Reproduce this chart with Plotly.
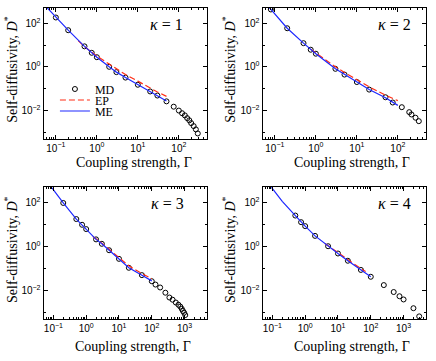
import math
import plotly.graph_objects as go

# ---- data ----
# kappa = 1
g_md_1 = [0.1, 0.2, 0.5, 0.75, 1, 2, 3, 5, 10, 20, 30, 50, 75, 100, 120, 140, 160, 180, 200, 230, 260, 290]
d_md_1 = [184, 48, 8.7, 4.4, 2.76, 1.0, 0.57, 0.32, 0.15, 0.074, 0.048, 0.026, 0.0148, 0.0098, 0.0074,
          0.0059, 0.0044, 0.0035, 0.0026, 0.0019, 0.00134, 0.00087]
g_ep_1 = [0.35, 0.5, 0.75, 1, 2, 3, 5, 10, 20, 30, 50]
d_ep_1 = [16, 8.5, 4.7, 3.1, 1.35, 0.82, 0.44, 0.22, 0.105, 0.07, 0.044]
g_me_1 = [0.055, 0.1, 0.2, 0.5, 0.75, 1, 2, 3, 5, 10, 20, 30, 50]
d_me_1 = [640, 184, 48, 8.7, 4.4, 2.76, 1.0, 0.57, 0.32, 0.15, 0.074, 0.048, 0.027]

# kappa = 2
g_md_2 = [0.08, 0.2, 0.5, 0.75, 1, 3, 5, 10, 20, 50, 75, 125, 190, 215, 270, 325]
d_md_2 = [430, 59, 12.2, 6.1, 4.0, 0.81, 0.44, 0.2, 0.09, 0.04, 0.023, 0.014, 0.0083, 0.0065, 0.0046, 0.0032]
g_ep_2 = [0.75, 1, 2, 3, 5, 10, 20, 50, 100]
d_ep_2 = [6.4, 4.3, 1.75, 1.0, 0.55, 0.26, 0.12, 0.05, 0.028]
g_me_2 = [0.07, 0.08, 0.2, 0.5, 0.75, 1, 3, 5, 10, 20, 50, 75, 100]
d_me_2 = [580, 430, 59, 12.2, 6.1, 4.0, 0.81, 0.44, 0.2, 0.09, 0.038, 0.024, 0.017]

# kappa = 3
g_md_3 = [0.2, 0.5, 0.75, 1, 2, 3, 5, 10, 20, 50, 100, 130, 180, 260, 345, 430, 540, 650, 740, 820,
          890, 970, 1050]
d_md_3 = [97, 18, 9.9, 6.3, 2.15, 1.35, 0.69, 0.28, 0.11, 0.051, 0.027, 0.019, 0.014, 0.0081, 0.0049,
          0.0039, 0.0029, 0.0023, 0.0019, 0.0015, 0.0012, 0.001, 0.00078]
g_ep_3 = [1.6, 2, 3, 5, 10, 20, 50, 100]
d_ep_3 = [2.9, 2.3, 1.45, 0.76, 0.31, 0.135, 0.06, 0.035]
g_me_3 = [0.08, 0.2, 0.5, 0.75, 1, 2, 3, 5, 10, 20, 50, 100]
d_me_3 = [600, 97, 18, 9.9, 6.3, 2.15, 1.35, 0.69, 0.28, 0.11, 0.05, 0.028]

# kappa = 4
g_md_4 = [0.5, 0.75, 1, 2, 5, 10, 20, 50, 100, 250, 500, 750, 1000, 2000, 3000]
d_md_4 = [26, 13, 8.6, 3.1, 1.05, 0.49, 0.23, 0.088, 0.043, 0.018, 0.0087, 0.0056, 0.0040, 0.0016, 0.00068]
g_ep_4 = [4, 5, 10, 20, 50, 70]
d_ep_4 = [1.4, 1.1, 0.52, 0.245, 0.1, 0.075]
g_me_4 = [0.085, 0.2, 0.5, 0.75, 1, 2, 5, 10, 20, 50, 100]
d_me_4 = [600, 115, 26, 13, 8.6, 3.1, 1.05, 0.49, 0.23, 0.088, 0.043]

kappa_labels = ["<i>κ</i> = 1", "<i>κ</i> = 2", "<i>κ</i> = 3", "<i>κ</i> = 4"]

x_tickvals_top = [0.1, 1, 10, 100]
x_ticktext_top = ["10<sup>−1</sup>", "10<sup>0</sup>", "10<sup>1</sup>", "10<sup>2</sup>"]
x_tickvals_bot = [0.1, 1, 10, 100, 1000]
x_ticktext_bot = ["10<sup>−1</sup>", "10<sup>0</sup>", "10<sup>1</sup>", "10<sup>2</sup>", "10<sup>3</sup>"]
y_tickvals = [0.01, 1, 100]
y_ticktext = ["10<sup>−2</sup>", "10<sup>0</sup>", "10<sup>2</sup>"]

x_title = "Coupling strength, Γ"
y_title = "Self-diffusivity, <i>D</i><sup>*</sup>"

SERIF = "Liberation Serif"
SANS = "Liberation Sans"

panels = [
    (g_md_1, d_md_1, g_ep_1, d_ep_1, g_me_1, d_me_1),
    (g_md_2, d_md_2, g_ep_2, d_ep_2, g_me_2, d_me_2),
    (g_md_3, d_md_3, g_ep_3, d_ep_3, g_me_3, d_me_3),
    (g_md_4, d_md_4, g_ep_4, d_ep_4, g_me_4, d_me_4),
]

x_domains = [[0.0998, 0.4759], [0.6021, 0.9782], [0.0998, 0.4759], [0.6021, 0.9782]]
y_domains = [[0.6158, 0.9778], [0.6158, 0.9778], [0.1155, 0.4812], [0.1155, 0.4812]]

fig = go.Figure()

for i, (gmd, dmd, gep, dep, gme, dme) in enumerate(panels):
    n = "" if i == 0 else str(i + 1)
    # each legend entry gets its own legend box so the rows can sit close together
    fig.add_trace(
        go.Scatter(
            x=gmd, y=dmd, mode="markers", name="MD", legend="legend",
            marker=dict(symbol="circle-open", size=5, color="black", line=dict(width=1, color="black")),
            xaxis="x" + n, yaxis="y" + n, showlegend=(i == 0),
        )
    )
    fig.add_trace(
        go.Scatter(
            x=gep, y=dep, mode="lines", name="EP", legend="legend2",
            line=dict(color="rgb(255,45,20)", width=1.2, dash="6px,3px"),
            xaxis="x" + n, yaxis="y" + n, showlegend=(i == 0),
        )
    )
    fig.add_trace(
        go.Scatter(
            x=gme, y=dme, mode="lines", name="ME", legend="legend3",
            line=dict(color="rgb(30,40,255)", width=1.2),
            xaxis="x" + n, yaxis="y" + n, showlegend=(i == 0),
        )
    )

    top = i < 2
    xaxis = dict(
        type="log",
        domain=x_domains[i],
        anchor="y" + n,
        range=[math.log10(0.05), math.log10(500)] if top else [math.log10(0.05), math.log10(5000)],
        tickmode="array",
        tickvals=x_tickvals_top if top else x_tickvals_bot,
        ticktext=x_ticktext_top if top else x_ticktext_bot,
        ticks="inside", ticklen=4, tickcolor="black",
        minor=dict(ticks="inside", ticklen=2, dtick="D1", tickcolor="black"),
        showline=True, linecolor="black", linewidth=1, mirror="allticks",
        showgrid=False, zeroline=False,
        tickfont=dict(family=SANS, size=10, color="black"),
    )
    yaxis = dict(
        type="log",
        domain=y_domains[i],
        anchor="x" + n,
        range=[-3.3, 2.7],
        tickmode="array",
        tickvals=y_tickvals,
        ticktext=y_ticktext,
        ticks="inside", ticklen=4, tickcolor="black",
        minor=dict(ticks="inside", ticklen=2, tickmode="array", tickvals=[0.001, 0.1, 10], tickcolor="black"),
        showline=True, linecolor="black", linewidth=1, mirror="allticks",
        showgrid=False, zeroline=False,
        tickfont=dict(family=SANS, size=10, color="black"),
    )
    fig.update_layout({"xaxis" + n: xaxis, "yaxis" + n: yaxis})

annotations = []
x_title_pos = [(0.307, 0.5485), (0.807, 0.5485), (0.305, 0.0388), (0.808, 0.0388)]
y_title_pos = [(0.025, 0.809), (0.525, 0.809), (0.025, 0.31), (0.525, 0.31)]
kappa_pos = [(0.383, 0.9335), (0.904, 0.9335), (0.385, 0.435), (0.904, 0.435)]
for i in range(4):
    annotations.append(dict(
        text=x_title, x=x_title_pos[i][0], y=x_title_pos[i][1], xref="paper", yref="paper",
        xanchor="center", yanchor="middle",
        showarrow=False, font=dict(family=SERIF, size=14, color="black"),
    ))
    annotations.append(dict(
        text=y_title, x=y_title_pos[i][0], y=y_title_pos[i][1], xref="paper", yref="paper",
        xanchor="center", yanchor="middle",
        showarrow=False, textangle=-90, font=dict(family=SERIF, size=14, color="black"),
    ))
    annotations.append(dict(
        text=kappa_labels[i], x=kappa_pos[i][0], y=kappa_pos[i][1], xref="paper", yref="paper",
        xanchor="center", yanchor="middle",
        showarrow=False, font=dict(family=SERIF, size=16, color="black"),
    ))

legend_style = dict(
    x=0.126, xanchor="left", yanchor="middle",
    bgcolor="rgba(0,0,0,0)", borderwidth=0,
    font=dict(family=SERIF, size=12, color="black"),
    itemwidth=30,
)

fig.update_layout(
    width=436,
    height=361,
    margin=dict(l=0, r=0, t=0, b=0),
    paper_bgcolor="white",
    plot_bgcolor="white",
    annotations=annotations,
    showlegend=True,
    legend=dict(legend_style, y=1 - 89 / 361),
    legend2=dict(legend_style, y=1 - 100 / 361),
    legend3=dict(legend_style, y=1 - 111 / 361),
)

fig.write_html(
    "out.html",
    config={"displayModeBar": False},
    post_script="document.body.style.margin='0';",
)
